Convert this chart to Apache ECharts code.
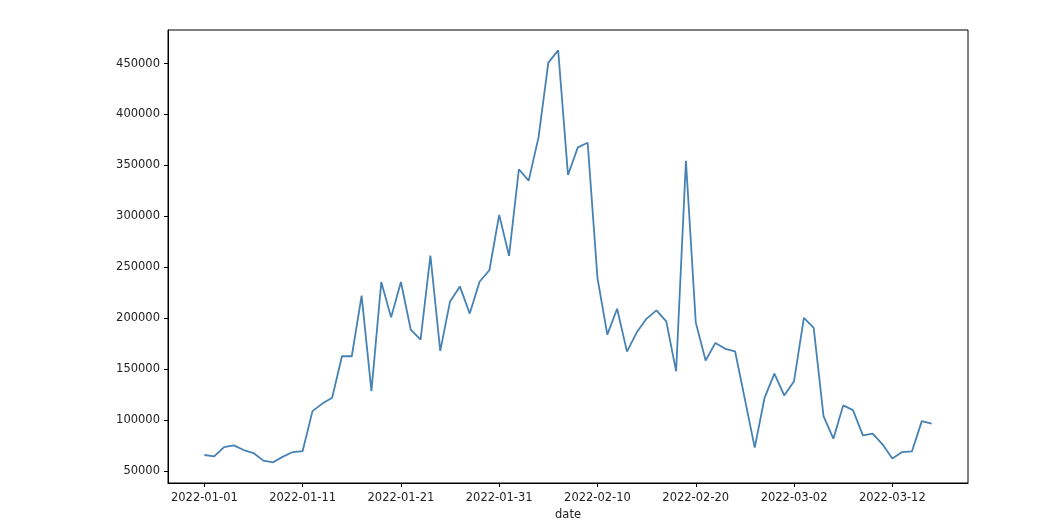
<!DOCTYPE html>
<html>
<head>
<meta charset="utf-8">
<script src="https://cdn.jsdelivr.net/npm/echarts@6/dist/echarts.min.js"></script>
<style>
html,body{margin:0;padding:0;background:#fff;}
#chart{width:1040px;height:526px;}
</style>
</head>
<body>
<div id="chart"></div>
<script>
const startDate = '2022-01-01';
const values = [
  65500, 64200, 73300, 75000, 70400, 67400, 60000, 58300, 63900, 68400,
  69400, 108600, 116000, 121700, 162500, 162500, 222000, 128200, 235400, 200700,
  235400, 188700, 178900, 261500, 167800, 216400, 231100, 204400, 235700, 247000,
  301400, 261200, 346200, 335000, 377500, 451000, 463000, 340600, 367700, 372200,
  239300, 183800, 209200, 167100, 186000, 199500, 207600, 196800, 147800, 354600,
  195800, 158300, 175600, 169800, 167400, 120100, 72700, 121700, 145500, 124000,
  138000, 200100, 190300, 103700, 81500, 114200, 109600, 84800, 86400, 76000,
  62000, 68400, 69100, 98800, 96300
];
const tickLabelDays = [0, 10, 20, 30, 40, 50, 60, 70];

function dayToLabel(d) {
  const base = new Date(startDate + 'T00:00:00Z');
  const t = new Date(base.getTime() + d * 86400000);
  const y = t.getUTCFullYear();
  const m = String(t.getUTCMonth() + 1).padStart(2, '0');
  const dd = String(t.getUTCDate()).padStart(2, '0');
  return y + '-' + m + '-' + dd;
}

const data = values.map((v, i) => [i, v]);
const chart = echarts.init(document.getElementById('chart'), null, {renderer: 'canvas'});
const font = 'DejaVu Sans';
chart.setOption({
  animation: false,
  backgroundColor: '#fff',
  grid: {left: 168, right: 72, top: 30, bottom: 42, show: true, borderColor: '#000', borderWidth: 1, backgroundColor: 'transparent'},
  xAxis: {
    type: 'value',
    min: -3.7,
    max: 77.7,
    splitNumber: 8,
    name: 'date',
    nameLocation: 'middle',
    nameGap: 26,
    nameTextStyle: {fontFamily: font, fontSize: 11.5, color: '#222'},
    axisLine: {show: true, onZero: false, lineStyle: {color: '#000', width: 1}},
    axisTick: {show: true, length: 4, lineStyle: {color: '#000'}},
    axisLabel: {
      showMinLabel: false, showMaxLabel: false,
      fontFamily: font, fontSize: 11.5, color: '#222', margin: 9,
      formatter: function (v) { return tickLabelDays.indexOf(v) >= 0 ? dayToLabel(v) : ''; }
    },
    splitLine: {show: false}
  },
  yAxis: {
    type: 'value',
    min: 38000,
    max: 483000,
    splitNumber: 9,
    axisLine: {show: true, onZero: false, lineStyle: {color: '#000', width: 1}},
    axisTick: {show: true, length: 4, lineStyle: {color: '#000'}},
    axisLabel: {
      showMinLabel: false, showMaxLabel: false,
      fontFamily: font, fontSize: 11.5, color: '#222', margin: 8,
      formatter: function (v) { return (v % 50000 === 0) ? String(v) : ''; }
    },
    splitLine: {show: false}
  },
  series: [{
    type: 'line',
    data: data,
    symbol: 'none',
    lineStyle: {color: '#4682b4', width: 1.8},
    itemStyle: {color: '#4682b4'}
  }]
});
</script>
</body>
</html>
